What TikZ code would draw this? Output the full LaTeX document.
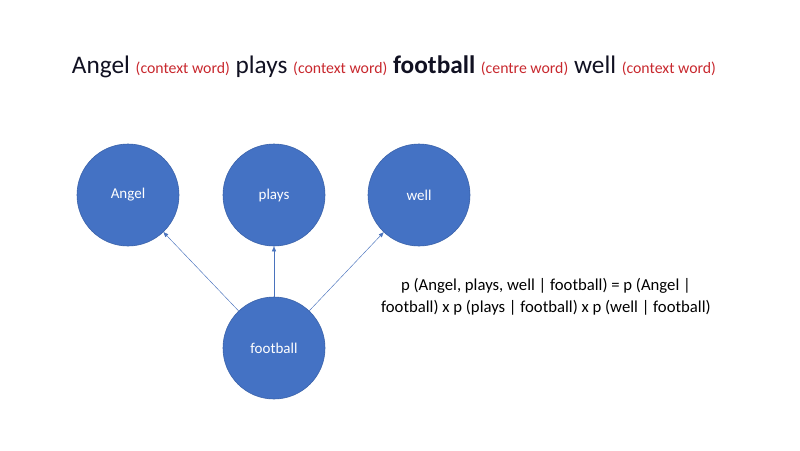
\documentclass[tikz,border=0pt]{standalone}
\usepackage{fontspec}
\setmainfont{Carlito}
\usepackage{tikz}
\usetikzlibrary{arrows.meta,positioning}
\usepackage{xcolor}
\definecolor{wordblue}{HTML}{4472C4}
\definecolor{ringblue}{HTML}{3A62AA}
\definecolor{notered}{HTML}{C8282E}
\definecolor{titleink}{HTML}{111122}

\tikzset{
  word/.style={circle,fill=wordblue,draw=ringblue,line width=0.6pt,minimum size=102pt,inner sep=0pt,
    text=white,font=\fontsize{15}{17}\selectfont},
  link/.style={-{Triangle[length=5pt,width=4pt]},draw=wordblue!90!gray,line width=0.45pt},
}
\newcommand{\ctx}[1]{{\fontsize{15.8}{18}\selectfont\color{notered}#1}}

\begin{document}
\begin{tikzpicture}[x=1pt,y=-1pt]
  \useasboundingbox (0,0) rectangle (800,450);
  \node[anchor=base,text=titleink,font=\fontsize{25.3}{28}\selectfont] (title) at (394,73)
    {Angel \ctx{(context word)} plays \ctx{(context word)} \textbf{football} \ctx{(centre word)} well \ctx{(context word)}};
  \node[word] (angel) at (128,195) {Angel};
  \node[word] (plays) at (274,195) {plays};
  \node[word] (well) at (419,195) {well};
  \node[word] (football) at (274,348) {football};
  \foreach \w in {angel,plays,well}{\draw[link] (football) -- (\w);}
  \node[align=center,font=\fontsize{16.7}{22}\selectfont,anchor=base] (prob) at (546,312)
    {p (Angel, plays, well | football) = p (Angel |\\football) x p (plays | football) x p (well | football)};
\end{tikzpicture}
\end{document}
